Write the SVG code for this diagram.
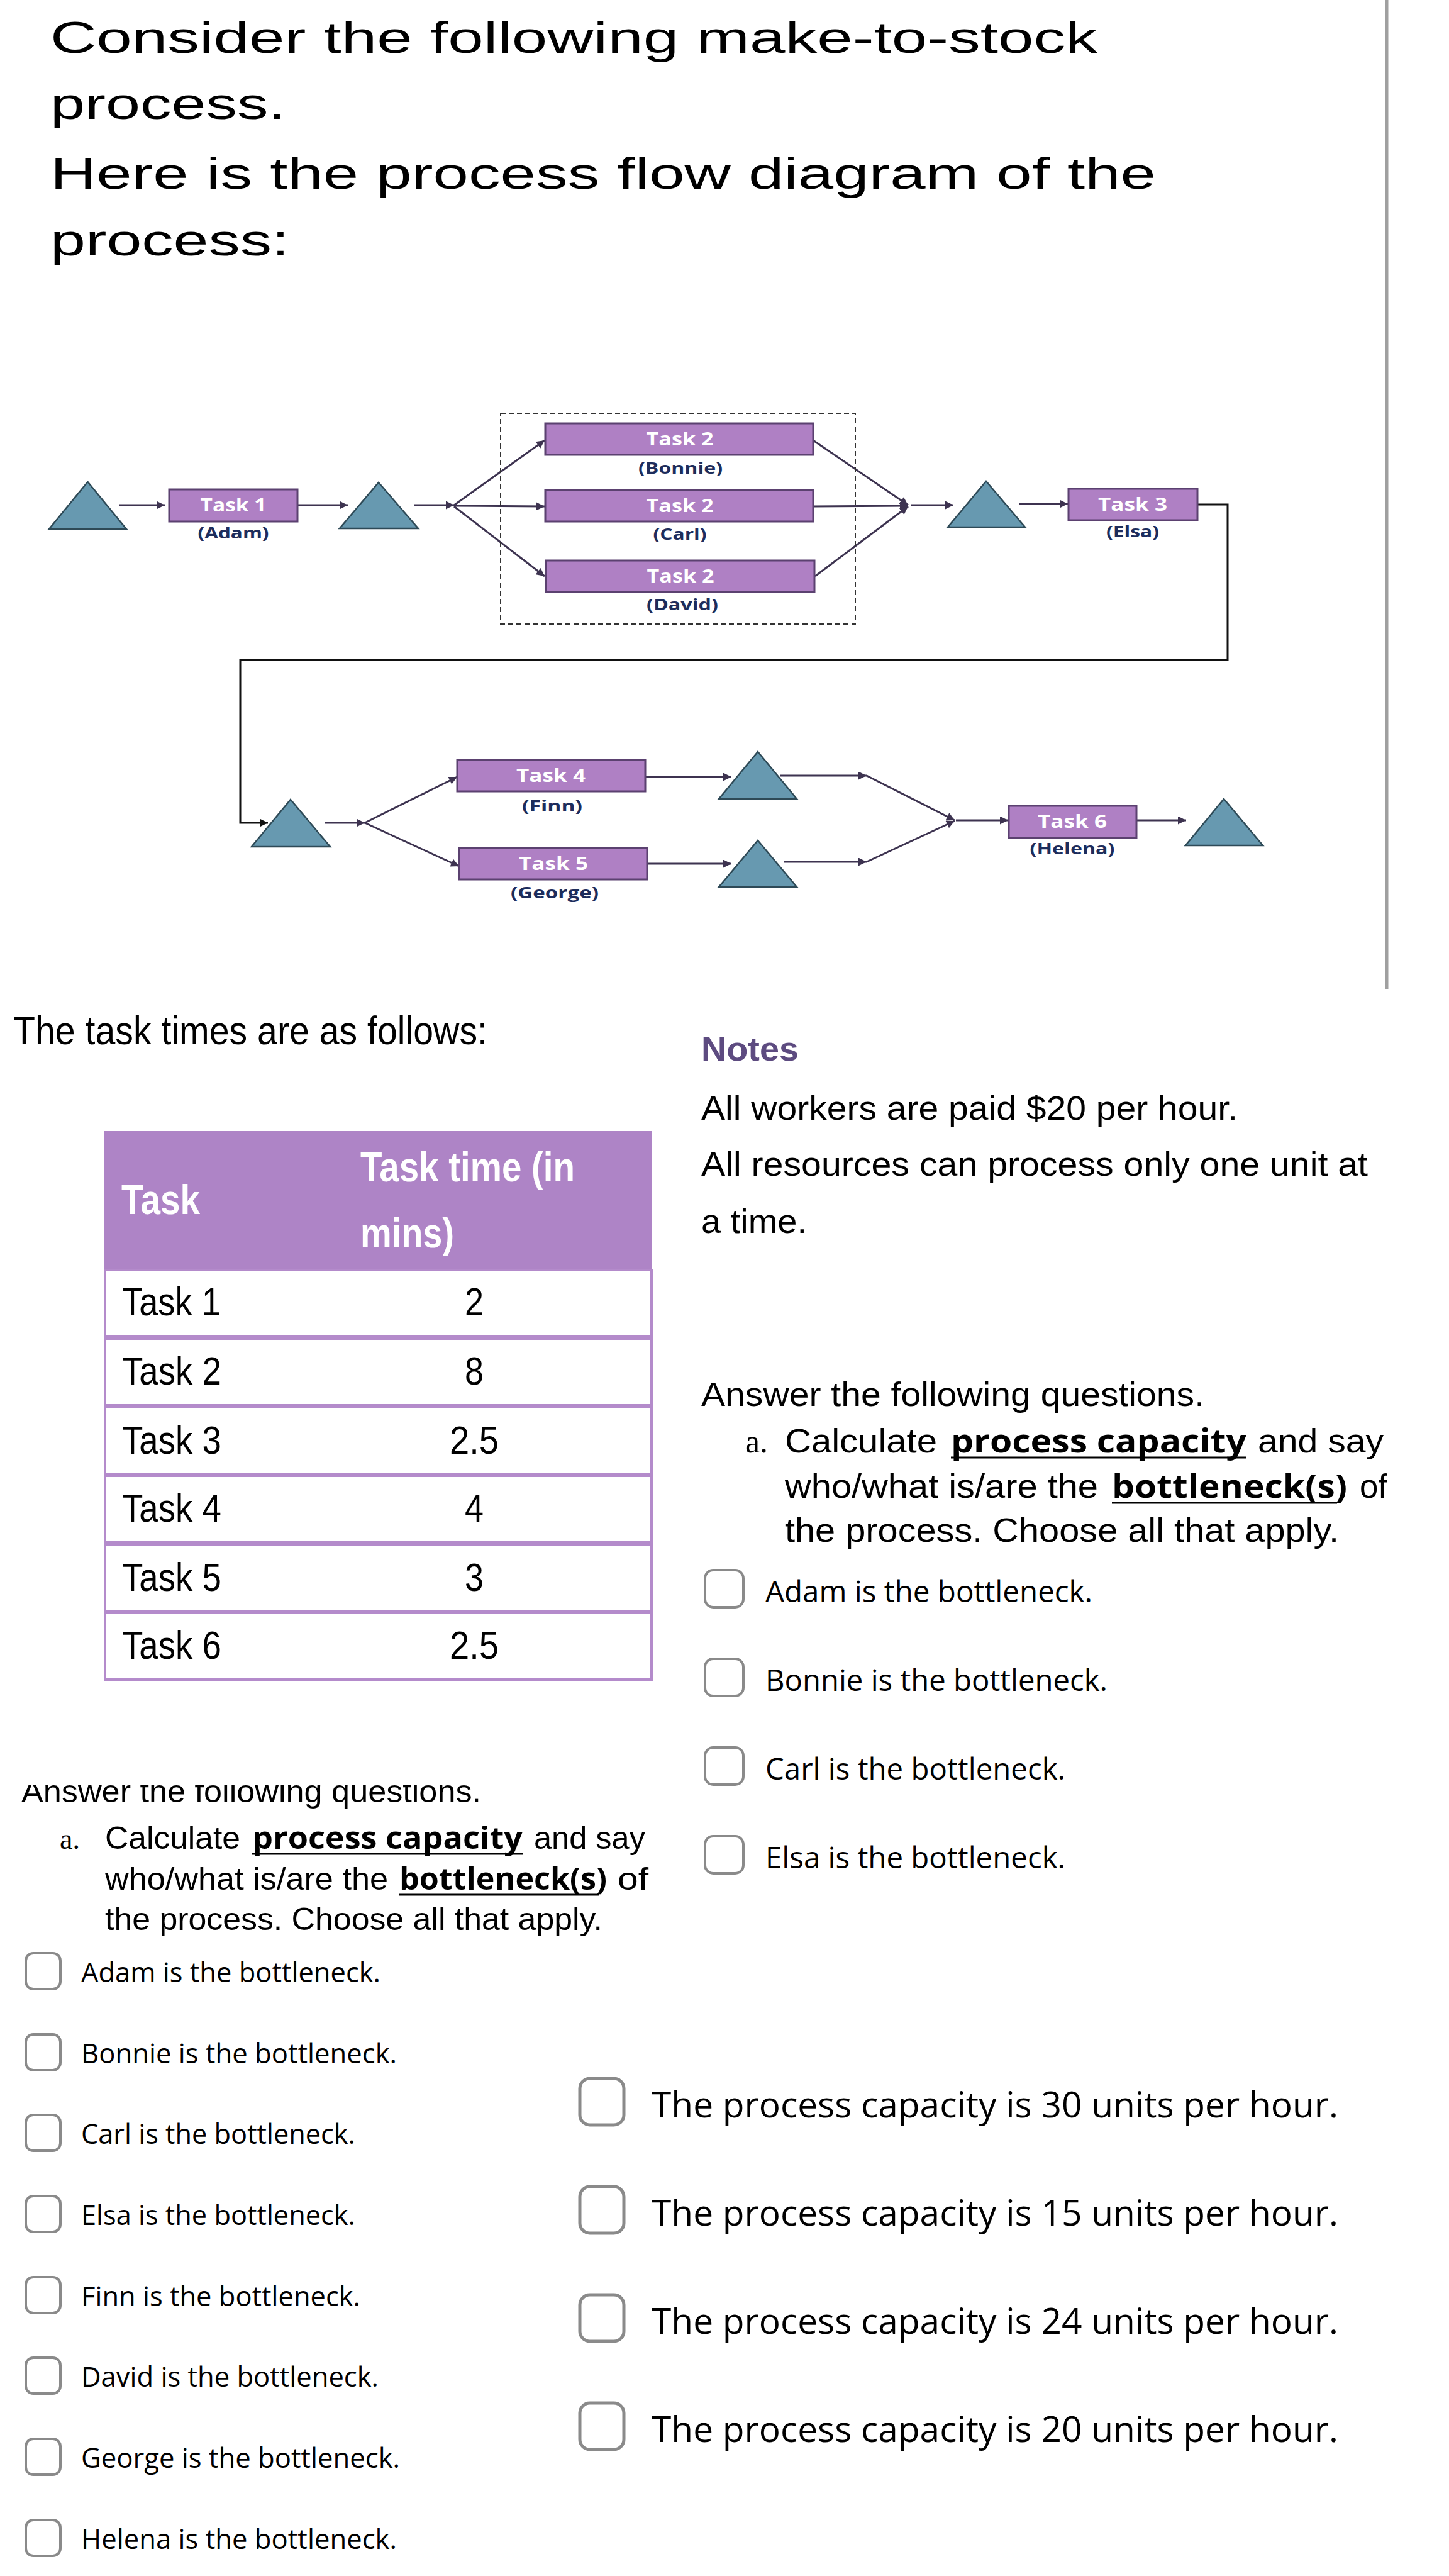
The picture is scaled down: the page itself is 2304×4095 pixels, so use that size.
<svg xmlns="http://www.w3.org/2000/svg" width="2304" height="4095" viewBox="0 0 2304 4095">
<style>
.sans{font-family:"Liberation Sans",Arial,Helvetica,sans-serif;fill:#000}
.os{font-family:"Open Sans","Liberation Sans",sans-serif;fill:#000}
.serif{font-family:"Liberation Serif","Times New Roman",serif;fill:#000}
.box{fill:#af80c4;stroke:#5b4170;stroke-width:3}
.tri{fill:#6799b0;stroke:#2e4a57;stroke-width:2.5}
.tl{font-family:"Open Sans","Liberation Sans",sans-serif;font-weight:700;font-size:28px;fill:#fff;text-anchor:middle}
.nm{font-family:"Open Sans","Liberation Sans",sans-serif;font-weight:700;font-size:25px;fill:#1d2d5c;text-anchor:middle}
.ln{fill:none;stroke:#3d3350;stroke-width:3}
.blk{fill:none;stroke:#111;stroke-width:3}
.cb{fill:#fff;stroke:#8a8a8a;stroke-width:4}
.row{fill:#fff;stroke:#b48bcb;stroke-width:4}
.ul{stroke:#000;stroke-width:3}
</style>
<defs>
<marker id="ah" viewBox="0 0 10 10" refX="10" refY="5" markerWidth="14" markerHeight="13" markerUnits="userSpaceOnUse" orient="auto"><path d="M0,0 L10,5 L0,10 z" fill="#3d3350"/></marker>
<marker id="ahk" viewBox="0 0 10 10" refX="10" refY="5" markerWidth="14" markerHeight="13" markerUnits="userSpaceOnUse" orient="auto"><path d="M0,0 L10,5 L0,10 z" fill="#111"/></marker>
<clipPath id="clipAns"><rect x="0" y="2838" width="1100" height="60"/></clipPath>
</defs>
<rect width="2304" height="4095" fill="#fff"/>

<!-- intro text -->
<g id="intro" class="sans" font-size="71">
<text x="80" y="84" textLength="1665" lengthAdjust="spacingAndGlyphs">Consider the following make-to-stock</text>
<text x="80" y="189" textLength="374" lengthAdjust="spacingAndGlyphs">process.</text>
<text x="80" y="300" textLength="1758" lengthAdjust="spacingAndGlyphs">Here is the process flow diagram of the</text>
<text x="80" y="406" textLength="380" lengthAdjust="spacingAndGlyphs">process:</text>
</g>
<line x1="2205" y1="0" x2="2205" y2="1572" stroke="#a0a0a0" stroke-width="5"/>

<!-- connectors -->
<g id="connectors">
<line class="ln" x1="190" y1="803" x2="262" y2="803" marker-end="url(#ah)"/>
<line class="ln" x1="474" y1="803" x2="553" y2="803" marker-end="url(#ah)"/>
<line class="ln" x1="658" y1="803" x2="722" y2="803" marker-end="url(#ah)"/>
<line class="ln" x1="722" y1="803" x2="866" y2="700" marker-end="url(#ah)"/>
<line class="ln" x1="722" y1="804" x2="866" y2="805" marker-end="url(#ah)"/>
<line class="ln" x1="722" y1="805" x2="866" y2="916" marker-end="url(#ah)"/>
<line class="ln" x1="1293" y1="700" x2="1444" y2="803" marker-end="url(#ah)"/>
<line class="ln" x1="1293" y1="805" x2="1444" y2="804" marker-end="url(#ah)"/>
<line class="ln" x1="1296" y1="916" x2="1444" y2="805" marker-end="url(#ah)"/>
<line class="ln" x1="1448" y1="803" x2="1516" y2="803" marker-end="url(#ah)"/>
<line class="ln" x1="1621" y1="801" x2="1698" y2="801" marker-end="url(#ah)"/>
<polyline class="blk" points="1904,802 1952,802 1952,1049 382,1049 382,1308 426,1308" marker-end="url(#ahk)"/>
<line class="ln" x1="517" y1="1308" x2="580" y2="1308" marker-end="url(#ah)"/>
<line class="ln" x1="580" y1="1308" x2="727" y2="1235" marker-end="url(#ah)"/>
<line class="ln" x1="580" y1="1308" x2="730" y2="1377" marker-end="url(#ah)"/>
<line class="ln" x1="1026" y1="1235" x2="1163" y2="1235" marker-end="url(#ah)"/>
<line class="ln" x1="1029" y1="1373" x2="1163" y2="1373" marker-end="url(#ah)"/>
<line class="ln" x1="1241" y1="1233" x2="1378" y2="1233" marker-end="url(#ah)"/>
<line class="ln" x1="1378" y1="1233" x2="1518" y2="1304" marker-end="url(#ah)"/>
<line class="ln" x1="1246" y1="1370" x2="1378" y2="1370" marker-end="url(#ah)"/>
<line class="ln" x1="1378" y1="1370" x2="1518" y2="1305" marker-end="url(#ah)"/>
<line class="ln" x1="1520" y1="1304" x2="1603" y2="1304" marker-end="url(#ah)"/>
<line class="ln" x1="1807" y1="1304" x2="1886" y2="1304" marker-end="url(#ah)"/>
</g>

<rect id="task2-group" x="796" y="657" width="564" height="335" fill="none" stroke="#333" stroke-width="2" stroke-dasharray="8 5"/>

<!-- inventories -->
<g id="inv0"><polygon class="tri" points="139.5,766 201,841 78,841"/></g>
<g id="inv1"><polygon class="tri" points="602,767 665,840 540,840"/></g>
<g id="inv2"><polygon class="tri" points="1568,765 1630,838 1507,838"/></g>
<g id="inv3"><polygon class="tri" points="462,1271 525,1346 400,1346"/></g>
<g id="inv4"><polygon class="tri" points="1205,1195 1267,1270 1143,1270"/></g>
<g id="inv5"><polygon class="tri" points="1205,1336 1267,1410 1143,1410"/></g>
<g id="inv6"><polygon class="tri" points="1946,1270 2008,1344 1885,1344"/></g>

<!-- tasks -->
<g id="task1"><rect class="box" x="269" y="778" width="204" height="51"/><text class="tl" x="371" y="813" textLength="105" lengthAdjust="spacingAndGlyphs">Task 1</text><text class="nm" x="371" y="856" textLength="113" lengthAdjust="spacingAndGlyphs">(Adam)</text></g>
<g id="task2-bonnie"><rect class="box" x="867" y="673" width="426" height="50"/><text class="tl" x="1081" y="708" textLength="107" lengthAdjust="spacingAndGlyphs">Task 2</text><text class="nm" x="1082" y="753" textLength="134" lengthAdjust="spacingAndGlyphs">(Bonnie)</text></g>
<g id="task2-carl"><rect class="box" x="867" y="779" width="426" height="50"/><text class="tl" x="1081" y="814" textLength="107" lengthAdjust="spacingAndGlyphs">Task 2</text><text class="nm" x="1081" y="858" textLength="85" lengthAdjust="spacingAndGlyphs">(Carl)</text></g>
<g id="task2-david"><rect class="box" x="868" y="891" width="427" height="50"/><text class="tl" x="1082" y="926" textLength="107" lengthAdjust="spacingAndGlyphs">Task 2</text><text class="nm" x="1085" y="970" textLength="114" lengthAdjust="spacingAndGlyphs">(David)</text></g>
<g id="task3"><rect class="box" x="1699" y="777" width="205" height="50"/><text class="tl" x="1801" y="812" textLength="110" lengthAdjust="spacingAndGlyphs">Task 3</text><text class="nm" x="1801" y="854" textLength="84" lengthAdjust="spacingAndGlyphs">(Elsa)</text></g>
<g id="task4"><rect class="box" x="727" y="1208" width="299" height="50"/><text class="tl" x="876" y="1243" textLength="110" lengthAdjust="spacingAndGlyphs">Task 4</text><text class="nm" x="878" y="1290" textLength="96" lengthAdjust="spacingAndGlyphs">(Finn)</text></g>
<g id="task5"><rect class="box" x="730" y="1348" width="299" height="50"/><text class="tl" x="880" y="1383" textLength="110" lengthAdjust="spacingAndGlyphs">Task 5</text><text class="nm" x="882" y="1428" textLength="140" lengthAdjust="spacingAndGlyphs">(George)</text></g>
<g id="task6"><rect class="box" x="1604" y="1281" width="203" height="51"/><text class="tl" x="1705" y="1316" textLength="110" lengthAdjust="spacingAndGlyphs">Task 6</text><text class="nm" x="1705" y="1358" textLength="135" lengthAdjust="spacingAndGlyphs">(Helena)</text></g>

<!-- task time table -->
<g id="table">
<text class="sans" x="21" y="1660" font-size="63" textLength="754" lengthAdjust="spacingAndGlyphs">The task times are as follows:</text>
<rect x="165" y="1798" width="872" height="220" fill="#ae84c6"/>
<g class="sans" font-weight="700" font-size="67" style="fill:#fff">
<text x="193" y="1930" textLength="125" lengthAdjust="spacingAndGlyphs" fill="#fff">Task</text>
<text x="573" y="1878" textLength="341" lengthAdjust="spacingAndGlyphs" fill="#fff">Task time (in</text>
<text x="573" y="1983" textLength="149" lengthAdjust="spacingAndGlyphs" fill="#fff">mins)</text>
</g>
<rect class="row" x="167" y="2019" width="869" height="106"/>
<rect class="row" x="167" y="2128" width="869" height="106"/>
<rect class="row" x="167" y="2237" width="869" height="106"/>
<rect class="row" x="167" y="2346" width="869" height="106"/>
<rect class="row" x="167" y="2455" width="869" height="106"/>
<rect class="row" x="167" y="2564" width="869" height="106"/>
<g class="sans" font-size="63">
<text x="194" y="2091" textLength="157" lengthAdjust="spacingAndGlyphs">Task 1</text>
<text x="194" y="2201" textLength="158" lengthAdjust="spacingAndGlyphs">Task 2</text>
<text x="194" y="2311" textLength="158" lengthAdjust="spacingAndGlyphs">Task 3</text>
<text x="194" y="2419" textLength="158" lengthAdjust="spacingAndGlyphs">Task 4</text>
<text x="194" y="2529" textLength="158" lengthAdjust="spacingAndGlyphs">Task 5</text>
<text x="194" y="2637" textLength="158" lengthAdjust="spacingAndGlyphs">Task 6</text>
</g>
<g class="sans" font-size="63" text-anchor="middle">
<text x="754" y="2091" textLength="30" lengthAdjust="spacingAndGlyphs">2</text>
<text x="754" y="2201" textLength="30" lengthAdjust="spacingAndGlyphs">8</text>
<text x="754" y="2311" textLength="78" lengthAdjust="spacingAndGlyphs">2.5</text>
<text x="754" y="2419" textLength="30" lengthAdjust="spacingAndGlyphs">4</text>
<text x="754" y="2529" textLength="30" lengthAdjust="spacingAndGlyphs">3</text>
<text x="754" y="2637" textLength="78" lengthAdjust="spacingAndGlyphs">2.5</text>
</g>
</g>

<!-- notes -->
<g id="notes">
<text class="sans" x="1115" y="1686" font-size="54" font-weight="700" style="fill:#5d4b80" textLength="155" lengthAdjust="spacingAndGlyphs">Notes</text>
<g class="sans" font-size="54">
<text x="1115" y="1780" textLength="853" lengthAdjust="spacingAndGlyphs">All workers are paid $20 per hour.</text>
<text x="1115" y="1869" textLength="1060" lengthAdjust="spacingAndGlyphs">All resources can process only one unit at</text>
<text x="1115" y="1960" textLength="168" lengthAdjust="spacingAndGlyphs">a time.</text>
</g>
</g>

<!-- question (right) -->
<g id="question-right">
<text class="sans" x="1115" y="2235" font-size="54" textLength="800" lengthAdjust="spacingAndGlyphs">Answer the following questions.</text>
<text class="serif" x="1185" y="2309" font-size="52">a.</text>
<g class="sans" font-size="54">
<text x="1248" y="2309" textLength="242" lengthAdjust="spacingAndGlyphs">Calculate</text>
<text x="2000" y="2309" textLength="200" lengthAdjust="spacingAndGlyphs">and say</text>
<text x="1248" y="2381" textLength="498" lengthAdjust="spacingAndGlyphs">who/what is/are the</text>
<text x="2162" y="2381" textLength="44" lengthAdjust="spacingAndGlyphs">of</text>
<text x="1248" y="2451" textLength="881" lengthAdjust="spacingAndGlyphs">the process. Choose all that apply.</text>
</g>
<g class="os" font-size="52" font-weight="700">
<text x="1512" y="2309" textLength="470" lengthAdjust="spacingAndGlyphs">process capacity</text>
<text x="1768" y="2381" textLength="374" lengthAdjust="spacingAndGlyphs">bottleneck(s)</text>
</g>
<line class="ul" x1="1512" y1="2317" x2="1982" y2="2317"/>
<line class="ul" x1="1768" y1="2389" x2="2126" y2="2389"/>
</g>

<!-- options (right, bottlenecks) -->
<g id="opts-right">
<rect class="cb" x="1121" y="2496" width="61" height="59" rx="13"/>
<rect class="cb" x="1121" y="2637" width="61" height="59" rx="13"/>
<rect class="cb" x="1121" y="2778" width="61" height="59" rx="13"/>
<rect class="cb" x="1121" y="2919" width="61" height="59" rx="13"/>
<g class="os" font-size="47">
<text x="1217" y="2547" textLength="520" lengthAdjust="spacingAndGlyphs">Adam is the bottleneck.</text>
<text x="1217" y="2688" textLength="544" lengthAdjust="spacingAndGlyphs">Bonnie is the bottleneck.</text>
<text x="1217" y="2829" textLength="477" lengthAdjust="spacingAndGlyphs">Carl is the bottleneck.</text>
<text x="1217" y="2970" textLength="477" lengthAdjust="spacingAndGlyphs">Elsa is the bottleneck.</text>
</g>
</g>

<!-- question (left copy) -->
<g id="question-left">
<text class="sans" x="34" y="2865" font-size="50" clip-path="url(#clipAns)" textLength="731" lengthAdjust="spacingAndGlyphs">Answer the following questions.</text>
<text class="serif" x="95" y="2939" font-size="46">a.</text>
<g class="sans" font-size="50">
<text x="167" y="2939" textLength="215" lengthAdjust="spacingAndGlyphs">Calculate</text>
<text x="849" y="2939" textLength="177" lengthAdjust="spacingAndGlyphs">and say</text>
<text x="167" y="3004" textLength="450" lengthAdjust="spacingAndGlyphs">who/what is/are the</text>
<text x="982" y="3004" textLength="49" lengthAdjust="spacingAndGlyphs">of</text>
<text x="167" y="3068" textLength="791" lengthAdjust="spacingAndGlyphs">the process. Choose all that apply.</text>
</g>
<g class="os" font-size="48" font-weight="700">
<text x="401" y="2939" textLength="430" lengthAdjust="spacingAndGlyphs">process capacity</text>
<text x="635" y="3004" textLength="330" lengthAdjust="spacingAndGlyphs">bottleneck(s)</text>
</g>
<line class="ul" x1="401" y1="2947" x2="831" y2="2947"/>
<line class="ul" x1="635" y1="3012" x2="952" y2="3012"/>
</g>

<!-- options (left, bottlenecks) -->
<g id="opts-left">
<rect class="cb" x="41" y="3105" width="55" height="57" rx="12"/>
<rect class="cb" x="41" y="3234" width="55" height="57" rx="12"/>
<rect class="cb" x="41" y="3362" width="55" height="57" rx="12"/>
<rect class="cb" x="41" y="3491" width="55" height="57" rx="12"/>
<rect class="cb" x="41" y="3620" width="55" height="57" rx="12"/>
<rect class="cb" x="41" y="3748" width="55" height="57" rx="12"/>
<rect class="cb" x="41" y="3877" width="55" height="57" rx="12"/>
<rect class="cb" x="41" y="4006" width="55" height="57" rx="12"/>
<g class="os" font-size="43">
<text x="129" y="3151" textLength="476" lengthAdjust="spacingAndGlyphs">Adam is the bottleneck.</text>
<text x="129" y="3280" textLength="502" lengthAdjust="spacingAndGlyphs">Bonnie is the bottleneck.</text>
<text x="129" y="3408" textLength="436" lengthAdjust="spacingAndGlyphs">Carl is the bottleneck.</text>
<text x="129" y="3537" textLength="436" lengthAdjust="spacingAndGlyphs">Elsa is the bottleneck.</text>
<text x="129" y="3666" textLength="444" lengthAdjust="spacingAndGlyphs">Finn is the bottleneck.</text>
<text x="129" y="3794" textLength="473" lengthAdjust="spacingAndGlyphs">David is the bottleneck.</text>
<text x="129" y="3923" textLength="507" lengthAdjust="spacingAndGlyphs">George is the bottleneck.</text>
<text x="129" y="4052" textLength="502" lengthAdjust="spacingAndGlyphs">Helena is the bottleneck.</text>
</g>
</g>

<!-- options (capacity) -->
<g id="opts-capacity">
<rect class="cb" x="922" y="3304" width="70" height="74" rx="16" style="stroke-width:5"/>
<rect class="cb" x="922" y="3476" width="70" height="74" rx="16" style="stroke-width:5"/>
<rect class="cb" x="922" y="3648" width="70" height="74" rx="16" style="stroke-width:5"/>
<rect class="cb" x="922" y="3820" width="70" height="74" rx="16" style="stroke-width:5"/>
<g class="os" font-size="57">
<text x="1036" y="3366" textLength="1092" lengthAdjust="spacingAndGlyphs">The process capacity is 30 units per hour.</text>
<text x="1036" y="3538" textLength="1092" lengthAdjust="spacingAndGlyphs">The process capacity is 15 units per hour.</text>
<text x="1036" y="3710" textLength="1092" lengthAdjust="spacingAndGlyphs">The process capacity is 24 units per hour.</text>
<text x="1036" y="3882" textLength="1092" lengthAdjust="spacingAndGlyphs">The process capacity is 20 units per hour.</text>
</g>
</g>
</svg>
